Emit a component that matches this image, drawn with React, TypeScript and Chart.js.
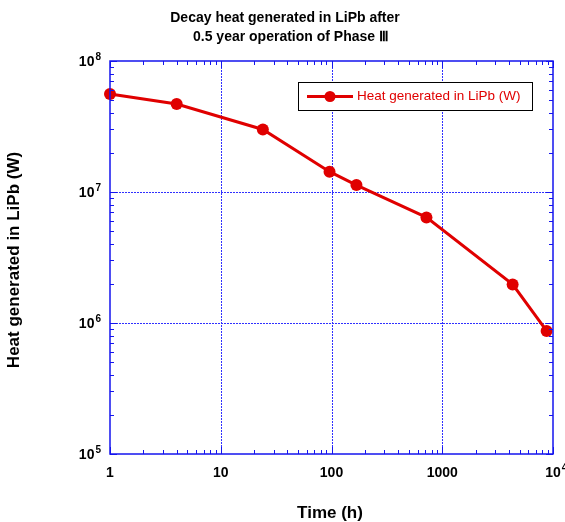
import React, { useEffect, useRef } from "react";
import { Chart, registerables } from "chart.js";
Chart.register(...registerables);

const timeHours = [1, 4, 24, 96, 168, 720, 4320, 8760];
const heatW = [5.6e7, 4.7e7, 3.0e7, 1.43e7, 1.13e7, 6.4e6, 1.97e6, 8.7e5];
const xTickValues = [1, 10, 100, 1000, 10000];
const xTickLabels = ["1", "10", "100", "1000", "10^4"];
const yTickValues = [1e5, 1e6, 1e7, 1e8];
const yTickLabels = ["10^5", "10^6", "10^7", "10^8"];
const titleLines = ["Decay heat generated in LiPb after", "0.5 year operation of Phase Ⅲ"];
const seriesLabel = "Heat generated in LiPb (W)";
const xTitle = "Time (h)";
const yTitle = "Heat generated in LiPb (W)";

const RED = "#e00000";
const BLUE = "#1515ee";
const GRID = "#3030ff";
const FONT = "'Liberation Sans', Arial, sans-serif";

function drawPowLabel(ctx: CanvasRenderingContext2D, text: string, x: number, y: number, align: "center" | "right") {
  const [base, exp] = text.split("^");
  ctx.font = `bold 14px ${FONT}`;
  const bw = ctx.measureText(base).width;
  ctx.font = `bold 10px ${FONT}`;
  const ew = exp ? ctx.measureText(exp).width + 1 : 0;
  let left: number;
  if (align === "center") left = x - bw / 2;
  else left = x - bw - ew;
  ctx.textAlign = "left";
  ctx.textBaseline = "middle";
  ctx.fillStyle = "#000";
  ctx.font = `bold 14px ${FONT}`;
  ctx.fillText(base, left, y);
  if (exp) {
    ctx.font = `bold 10px ${FONT}`;
    ctx.fillText(exp, left + bw + 1, y - 5);
  }
}

const framePlugin = {
  id: "framePlugin",
  beforeDraw(chart: any) {
    const ctx = chart.ctx as CanvasRenderingContext2D;
    ctx.save();
    ctx.fillStyle = "#fff";
    ctx.fillRect(0, 0, chart.width, chart.height);
    const { left, right, top, bottom } = chart.chartArea;
    const xs = chart.scales.x;
    const ys = chart.scales.y;
    // grid
    ctx.strokeStyle = GRID;
    ctx.lineWidth = 1;
    ctx.setLineDash([2, 1]);
    xTickValues.forEach((v) => {
      const px = Math.round(xs.getPixelForValue(v)) + 0.5;
      if (px > left + 2 && px < right - 2) {
        ctx.beginPath();
        ctx.moveTo(px, top);
        ctx.lineTo(px, bottom);
        ctx.stroke();
      }
    });
    yTickValues.forEach((v) => {
      const py = Math.round(ys.getPixelForValue(v)) + 0.5;
      if (py > top + 2 && py < bottom - 2) {
        ctx.beginPath();
        ctx.moveTo(left, py);
        ctx.lineTo(right, py);
        ctx.stroke();
      }
    });
    ctx.setLineDash([]);
    ctx.restore();
  },
  afterDatasetsDraw(chart: any) {
    const ctx = chart.ctx as CanvasRenderingContext2D;
    ctx.save();
    const { left, right, top, bottom } = chart.chartArea;
    const xs = chart.scales.x;
    const ys = chart.scales.y;
    ctx.strokeStyle = BLUE;
    ctx.lineWidth = 1;
    // ticks
    for (let d = 0; d < 4; d++) {
      for (let m = 1; m <= 10; m++) {
        const v = Math.pow(10, d) * m;
        if (v > 10000) continue;
        const px = Math.round(xs.getPixelForValue(v)) + 0.5;
        const len = m === 1 || m === 10 ? 7 : 4;
        ctx.beginPath();
        ctx.moveTo(px, bottom);
        ctx.lineTo(px, bottom - len);
        ctx.moveTo(px, top);
        ctx.lineTo(px, top + len);
        ctx.stroke();
      }
    }
    for (let d = 5; d < 8; d++) {
      for (let m = 1; m <= 10; m++) {
        const v = Math.pow(10, d) * m;
        const py = Math.round(ys.getPixelForValue(v)) + 0.5;
        const len = m === 1 || m === 10 ? 7 : 4;
        ctx.beginPath();
        ctx.moveTo(left, py);
        ctx.lineTo(left + len, py);
        ctx.moveTo(right, py);
        ctx.lineTo(right - len, py);
        ctx.stroke();
      }
    }
    // frame
    ctx.lineWidth = 1.5;
    ctx.strokeRect(left, top, right - left, bottom - top);

    // tick labels
    xTickValues.forEach((v, i) => {
      drawPowLabel(ctx, xTickLabels[i], xs.getPixelForValue(v), bottom + 19, "center");
    });
    yTickValues.forEach((v, i) => {
      drawPowLabel(ctx, yTickLabels[i], left - 9, ys.getPixelForValue(v) + 1, "right");
    });

    // titles
    ctx.fillStyle = "#000";
    ctx.textBaseline = "middle";
    ctx.textAlign = "center";
    ctx.font = `bold 14px ${FONT}`;
    ctx.fillText(titleLines[0], 285, 18);
    ctx.fillText(titleLines[1], 291, 37);
    ctx.font = `bold 17px ${FONT}`;
    ctx.fillText(xTitle, 330, 513);
    ctx.save();
    ctx.translate(14, 260);
    ctx.rotate(-Math.PI / 2);
    ctx.fillText(yTitle, 0, 0);
    ctx.restore();

    // legend
    const lx = 298, ly = 82, lw = 234, lh = 28;
    ctx.fillStyle = "#fff";
    ctx.fillRect(lx, ly, lw, lh);
    ctx.strokeStyle = "#000";
    ctx.lineWidth = 1;
    ctx.strokeRect(lx + 0.5, ly + 0.5, lw, lh);
    const cy = ly + 14.5;
    ctx.strokeStyle = RED;
    ctx.lineWidth = 3;
    ctx.beginPath();
    ctx.moveTo(307, cy);
    ctx.lineTo(353, cy);
    ctx.stroke();
    ctx.fillStyle = RED;
    ctx.beginPath();
    ctx.arc(330, cy, 5.5, 0, Math.PI * 2);
    ctx.fill();
    ctx.font = `13.5px ${FONT}`;
    ctx.textAlign = "left";
    ctx.textBaseline = "middle";
    ctx.fillText(seriesLabel, 357, cy);
    ctx.restore();
  },
};

export default function App() {
  const ref = useRef<HTMLCanvasElement | null>(null);
  useEffect(() => {
    if (!ref.current) return;
    const chart = new Chart(ref.current, {
      type: "line",
      data: {
        datasets: [
          {
            label: seriesLabel,
            data: timeHours.map((t, i) => ({ x: t, y: heatW[i] })),
            borderColor: RED,
            backgroundColor: RED,
            borderWidth: 3,
            pointRadius: 6,
            pointBorderWidth: 0,
            pointBackgroundColor: RED,
            clip: false as any,
            tension: 0,
          },
        ],
      },
      options: {
        responsive: false,
        animation: false,
        devicePixelRatio: 1,
        layout: { padding: { top: 61, right: 12, left: 0, bottom: 0 } },
        plugins: { legend: { display: false }, title: { display: false }, tooltip: { enabled: false } },
        scales: {
          x: {
            type: "logarithmic",
            min: 1,
            max: 10000,
            ticks: { display: false },
            grid: { display: false },
            border: { display: false },
            afterFit: (s: any) => { s.height = 68; },
          },
          y: {
            type: "logarithmic",
            min: 1e5,
            max: 1e8,
            ticks: { display: false },
            grid: { display: false },
            border: { display: false },
            afterFit: (s: any) => { s.width = 110; },
          },
        },
      },
      plugins: [framePlugin],
    });
    return () => chart.destroy();
  }, []);
  return (
    <div style={{ position: "fixed", left: 0, top: 0, width: 565, height: 522, background: "#fff" }}>
      <canvas ref={ref} width={565} height={522} style={{ width: 565, height: 522, display: "block" }} />
    </div>
  );
}
